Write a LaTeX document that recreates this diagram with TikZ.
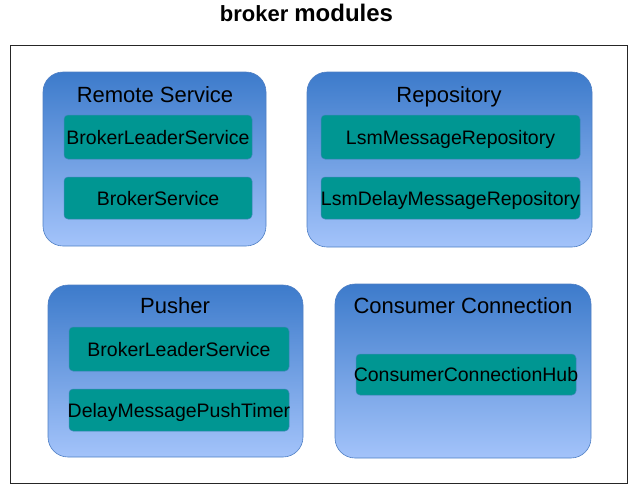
\documentclass[tikz,border=0pt]{standalone}
\usepackage{fontspec}
\setmainfont{Liberation Sans}
\usepackage{xcolor}
\usetikzlibrary{positioning}
\definecolor{boxtop}{HTML}{3D7BCB}
\definecolor{boxbottom}{HTML}{A3C3FA}
\definecolor{boxline}{HTML}{4F7FC4}
\definecolor{teal}{HTML}{009692}
\definecolor{tealline}{HTML}{3E86B8}
\tikzset{%
frame/.style={draw=black!85,line width=0.9pt,inner sep=0},
module/.style={draw=boxline,line width=0.6pt,rounded corners=20pt,top color=boxtop,bottom color=boxbottom,inner sep=0},
modtitle/.style={font=\fontsize{22}{24}\selectfont,inner sep=0,anchor=base},
service/.style={draw=tealline,line width=0.5pt,fill=teal,rounded corners=4pt,inner sep=0,text height=14pt,text depth=0pt,font=\fontsize{19.5}{22}\selectfont},
}

\begin{document}
\begin{tikzpicture}[x=1pt,y=-1pt]
  \useasboundingbox (0,0) rectangle (636,493);

  \node[inner sep=0,anchor=base] (title) at (306.5,21.5) {{\fontsize{22}{24}\selectfont\bfseries broker}\hspace{6pt}{\fontsize{24}{26}\selectfont\bfseries modules}};
  \node[frame,minimum width=617pt,minimum height=438pt] (frame) at (318.5,264) {};

  % remote service
  \node[module,minimum width=223pt,minimum height=174pt] (remote) at (154.5,159) {};
  \node[modtitle] (remoteT) at (155,102.5) {Remote Service};
  \node[service,minimum width=188pt,minimum height=44pt] (rsLeader) at (158,137) {BrokerLeaderService};
  \node[service,minimum width=188pt,minimum height=42pt] (rsBroker) at (158,198) {BrokerService};

  % repository
  \node[module,minimum width=285pt,minimum height=175pt] (repo) at (449.5,159.5) {};
  \node[modtitle] (repoT) at (449,102.5) {Repository};
  \node[service,minimum width=259pt,minimum height=44pt] (repoLsm) at (450.5,137) {LsmMessageRepository};
  \node[service,minimum width=259pt,minimum height=42pt,inner xsep=-4pt] (repoDelay) at (450.5,198) {LsmDelayMessageRepository};

  % pusher
  \node[module,minimum width=255pt,minimum height=172pt] (pusher) at (175.5,371) {};
  \node[modtitle] (pusherT) at (175,313.5) {Pusher};
  \node[service,minimum width=220pt,minimum height=44pt] (puLeader) at (179,349) {BrokerLeaderService};
  \node[service,minimum width=220pt,minimum height=42pt,inner xsep=-4pt] (puTimer) at (179,410) {DelayMessagePushTimer};

  % consumer connection
  \node[module,minimum width=256pt,minimum height=174pt] (consumer) at (463,371) {};
  \node[modtitle] (consumerT) at (463,313.5) {Consumer Connection};
  \node[service,minimum width=220pt,minimum height=41pt,inner xsep=-6pt] (ccHub) at (466,374.5) {ConsumerConnectionHub};

\end{tikzpicture}
\end{document}
